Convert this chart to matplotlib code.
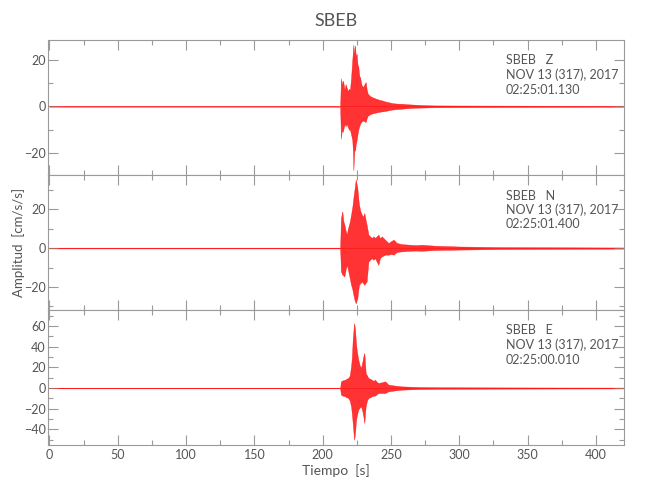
import matplotlib
matplotlib.use("Agg")
import matplotlib.pyplot as plt
from matplotlib.ticker import MultipleLocator

# ---------------- data (envelopes) ----------------
station = "SBEB"
components = ["Z", "N", "E"]
start_times = ["02:25:01.130", "02:25:01.400", "02:25:00.010"]
date_label = "NOV 13 (317), 2017"

t_z = [0, 212.8, 213.4, 214.0, 214.6, 215.1, 216.0, 216.8, 217.6, 218.5, 219.3, 220.0,
       220.8, 221.7, 222.2, 222.5, 222.9, 223.3, 223.7, 224.3, 224.9, 225.5, 226.1,
       226.8, 227.4, 228.5, 229.8, 230.6, 231.5, 232.3, 233.0, 234.5, 235.9, 238.0,
       240.8, 243.0, 245.7, 248.0, 250.6, 254.0, 257.9, 262.0, 267.6, 275.0, 282.3,
       300, 330, 370, 420]
up_z = [0.15, 0.15, 12.0, 9.0, 11.0, 10.5, 7.0, 9.5, 8.0, 6.5, 7.5, 7.0,
        12.0, 20.0, 24.0, 26.5, 20.0, 25.0, 26.0, 21.0, 22.5, 18.0, 17.0,
        13.0, 12.5, 9.0, 8.3, 9.5, 10.4, 7.0, 5.4, 4.5, 4.0, 3.5,
        2.9, 2.6, 2.1, 1.8, 1.4, 1.2, 1.1, 0.9, 0.7, 0.5, 0.4,
        0.35, 0.3, 0.25, 0.2]
lo_z = [-0.15, -0.15, -13.9, -10.0, -11.0, -10.0, -7.5, -8.5, -7.5, -9.0, -10.0, -10.0,
        -12.0, -14.5, -20.0, -27.4, -22.0, -18.0, -19.0, -16.0, -14.5, -12.0, -10.0,
        -8.5, -7.5, -6.5, -6.0, -6.5, -6.7, -5.0, -4.0, -3.5, -3.1, -2.8,
        -2.4, -2.2, -2.0, -1.7, -1.4, -1.2, -1.0, -0.8, -0.6, -0.5, -0.4,
        -0.35, -0.3, -0.25, -0.2]

t_n = [0, 212.8, 213.4, 214.4, 215.1, 215.9, 216.8, 217.6, 218.5, 219.3, 220.0, 220.8,
       221.7, 222.5, 223.3, 224.2, 224.8, 225.4, 226.0, 226.6, 227.6, 228.6, 229.6,
       230.5, 231.3, 232.2, 233.5, 234.7, 235.9, 237.2, 238.4, 239.6, 240.8, 242.0,
       243.3, 245.7, 248.2, 250.0, 251.9, 254.3, 258.0, 264.1, 268.0, 272.6, 282.3,
       300, 330, 370, 420]
up_n = [0.2, 0.2, 15.5, 18.9, 14.0, 12.0, 9.0, 6.9, 10.0, 12.0, 14.0, 17.2,
        21.0, 25.8, 30.0, 35.2, 33.0, 31.0, 26.0, 22.3, 19.0, 17.2, 16.0,
        18.0, 15.0, 12.0, 6.9, 6.0, 5.2, 6.0, 5.2, 6.0, 6.9, 5.0,
        6.0, 4.3, 2.6, 3.5, 4.3, 2.6, 2.0, 1.7, 1.5, 1.7, 1.2,
        0.8, 0.5, 0.4, 0.3]
lo_n = [-0.2, -0.2, -12.0, -13.7, -14.0, -14.6, -11.0, -8.6, -11.0, -13.7, -16.0, -18.9,
        -21.0, -24.0, -26.5, -28.4, -27.0, -25.8, -22.0, -18.9, -18.0, -17.2, -18.0,
        -18.9, -18.0, -17.2, -6.9, -6.0, -5.2, -6.0, -5.2, -7.0, -8.6, -5.0,
        -4.3, -3.4, -3.4, -3.0, -3.4, -2.0, -1.7, -1.4, -1.3, -1.4, -1.0,
        -0.8, -0.5, -0.4, -0.3]

t_e = [0, 212.8, 213.4, 214.8, 216.3, 217.5, 218.7, 219.8, 220.8, 221.4, 222.0, 222.5,
       223.0, 223.4, 223.7, 224.3, 224.9, 225.5, 226.1, 227.1, 228.1, 229.0, 229.8,
       230.5, 231.0, 231.5, 232.5, 233.5, 234.7, 235.9, 237.2, 238.4, 239.6, 240.8,
       243.2, 245.7, 248.2, 250.6, 253.1, 258.0, 264.0, 270.2, 282.3, 300, 330, 370, 420]
up_e = [0.3, 0.3, 6.5, 7.5, 8.0, 9.0, 9.7, 12.0, 21.0, 30.0, 47.0, 55.0,
        63.0, 60.0, 56.6, 45.0, 37.0, 32.0, 27.5, 22.0, 19.4, 25.0, 30.7,
        34.0, 25.0, 14.6, 12.0, 9.7, 9.0, 8.0, 7.0, 8.0, 6.0, 4.9,
        5.5, 6.5, 3.2, 2.8, 2.3, 1.6, 1.3, 1.0, 0.8, 0.7, 0.6, 0.5, 0.4]
lo_e = [-0.3, -0.3, -6.5, -7.5, -8.0, -9.0, -9.7, -12.0, -17.8, -25.0, -34.0, -42.0,
        -50.0, -47.0, -43.7, -33.0, -27.5, -24.0, -21.0, -19.0, -17.8, -22.0, -27.5,
        -34.0, -25.0, -17.8, -12.0, -9.7, -9.0, -8.0, -7.4, -7.4, -6.0, -4.9,
        -4.9, -4.9, -3.2, -2.8, -2.3, -1.6, -1.3, -1.0, -0.8, -0.7, -0.6, -0.5, -0.4]

y_limits = [(-29.4, 28.4), (-31.8, 37.5), (-55.3, 75.7)]
x_limits = (-1.3, 420.4)

# ---------------- style ----------------
FONT = ["Lato", "DejaVu Sans"]
plt.rcParams["font.family"] = FONT
TXT = "#555555"
AX = "#9a9a9a"
RED = "#ff0000"

fig = plt.figure(figsize=(6.5, 5), dpi=100)
left, width, height = 47.7 / 650, 576 / 650, 135 / 500
bottoms = [0.65, 0.38, 0.11]

series = [(t_z, up_z, lo_z), (t_n, up_n, lo_n), (t_e, up_e, lo_e)]

for i, (tt, up, lo) in enumerate(series):
    ax = fig.add_axes([left, bottoms[i], width, height])
    ax.fill_between(tt, lo, up, color=RED, alpha=0.8, linewidth=0.3,
                    edgecolor=RED)
    ax.plot(tt, [0] * len(tt), color=RED, lw=0.6, alpha=0.45)
    ax.set_xlim(*x_limits)
    ax.set_ylim(*y_limits[i])
    ax.xaxis.set_major_locator(MultipleLocator(50))
    ax.xaxis.set_minor_locator(MultipleLocator(25))
    ax.yaxis.set_major_locator(MultipleLocator(20))
    ax.yaxis.set_minor_locator(MultipleLocator(10))
    ax.tick_params(which="both", direction="in", top=True, bottom=True,
                   left=True, right=True, color=AX, width=0.8,
                   labelcolor=TXT, labelsize=9)
    ax.tick_params(which="major", length=7)
    ax.tick_params(which="minor", length=3.5)
    ax.tick_params(axis="y", pad=1.5)
    ax.tick_params(axis="x", pad=3)
    if i < 2:
        ax.tick_params(axis="x", labelbottom=False)
    for s in ax.spines.values():
        s.set_color(AX)
        s.set_linewidth(0.8)
    ys = [1 - 20.5 / 135, 1 - 35 / 135, 1 - 49.5 / 135]
    lines = [f"{station}   {components[i]}", date_label, start_times[i]]
    for yy, txt in zip(ys, lines):
        ax.text(0.795, yy, txt, transform=ax.transAxes, ha="left", va="center",
                fontsize=9, color=TXT)

fig.text(336 / 650, 1 - 21.5 / 500, station, ha="center", va="center",
         fontsize=13, color=TXT)
fig.text(19 / 650, 1 - 242 / 500, "Amplitud  [cm/s/s]", rotation=90,
         ha="center", va="center", fontsize=9.5, color=TXT)
fig.text(336 / 650, 1 - 471 / 500, "Tiempo  [s]", ha="center", va="center",
         fontsize=10, color=TXT)

fig.savefig("out.png", dpi=100, facecolor="white")
